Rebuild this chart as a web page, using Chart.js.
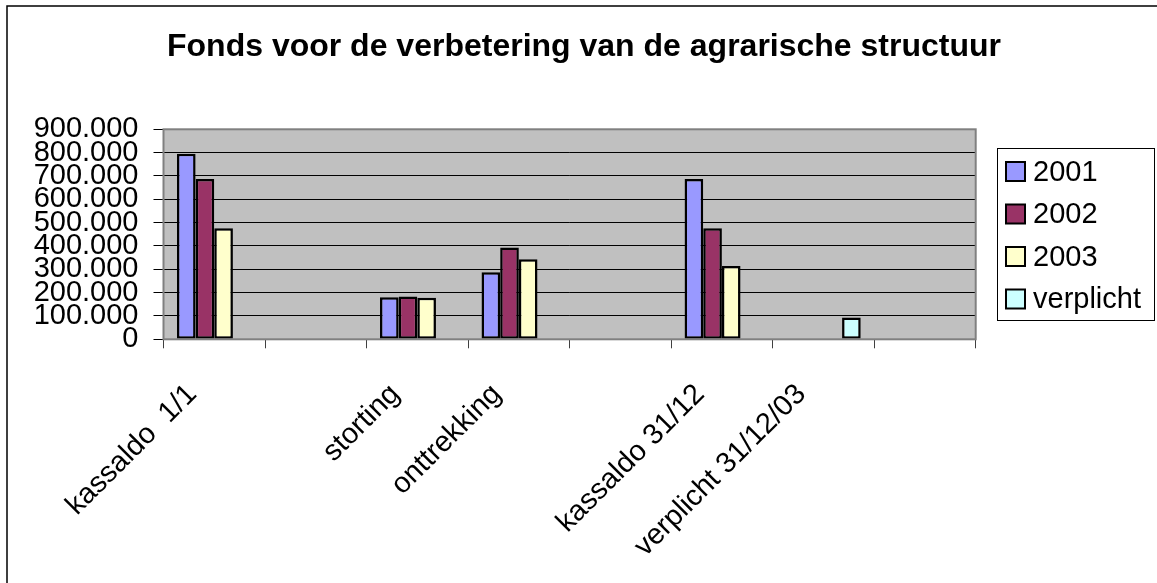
<!DOCTYPE html>
<html>
<head>
<meta charset="utf-8">
<script src="https://cdn.jsdelivr.net/npm/chart.js@4.4.1/dist/chart.umd.min.js"></script>
<style>
  html, body { margin: 0; padding: 0; background: #fff; }
  canvas { display: block; }
</style>
</head>
<body>
<canvas id="fondsChart" width="1157" height="583"></canvas>
<script>
// Categories and values
const categories = ['kassaldo  1/1', '', 'storting', 'onttrekking', '', 'kassaldo 31/12', 'verplicht 31/12/03', ''];
const seriesNames = ['2001', '2002', '2003', 'verplicht'];
const values2001 = [795000, null, 180000, 287000, null, 687000, null, null];
const values2002 = [687000, null, 183000, 393000, null, 476000, null, null];
const values2003 = [476000, null, 178000, 343000, null, 314000, null, null];
const valuesVerplicht = [null, null, null, null, null, null, 93000, null];
const yTicks = [0, 100000, 200000, 300000, 400000, 500000, 600000, 700000, 800000, 900000];

const chartTitle = 'Fonds voor de verbetering van de agrarische structuur';
const colors = ['#9999ff', '#993366', '#ffffcc', '#ccffff'];
const FONT = "'Liberation Sans', Arial, sans-serif";

function formatThousands(v) {
    return String(v).replace(/\B(?=(\d{3})+(?!\d))/g, '.');
}

// Background of the plot area, plot border, outer frame, title and legend
const excelLook = {
    id: 'excelLook',
    beforeDraw(chart) {
        const { ctx, chartArea: { left, top, width, height } } = chart;
        ctx.save();
        ctx.fillStyle = '#c0c0c0';
        ctx.fillRect(left, top, width, height);
        ctx.restore();
    },
    afterDatasetsDraw(chart) {
        const { ctx, chartArea: { left, top, width, height } } = chart;
        ctx.save();
        ctx.strokeStyle = '#808080';
        ctx.lineWidth = 2;
        ctx.strokeRect(left, top, width, height);
        ctx.restore();
    },
    afterDraw(chart) {
        const { ctx } = chart;
        ctx.save();

        // outer frame (cropped at right and bottom)
        ctx.strokeStyle = '#000';
        ctx.lineWidth = 1.5;
        ctx.beginPath();
        ctx.moveTo(7, chart.height);
        ctx.lineTo(7, 6);
        ctx.lineTo(chart.width, 6);
        ctx.stroke();

        // title
        ctx.fillStyle = '#000';
        ctx.font = 'bold 32px ' + FONT;
        ctx.textAlign = 'center';
        ctx.textBaseline = 'middle';
        ctx.fillText(chartTitle, 584, 47);

        // legend
        const boxX = 997, boxY = 148, boxW = 157, boxH = 172;
        ctx.fillStyle = '#fff';
        ctx.fillRect(boxX, boxY, boxW, boxH);
        ctx.strokeStyle = '#000';
        ctx.lineWidth = 1;
        ctx.strokeRect(boxX + 0.5, boxY + 0.5, boxW, boxH);

        ctx.font = '29px ' + FONT;
        ctx.textAlign = 'left';
        chart.data.datasets.forEach((ds, i) => {
            const cy = 171.5 + i * 42.5;
            ctx.fillStyle = ds.backgroundColor;
            ctx.fillRect(1006, cy - 9.5, 19, 19);
            ctx.strokeStyle = '#000';
            ctx.lineWidth = 2;
            ctx.strokeRect(1006, cy - 9.5, 19, 19);
            ctx.fillStyle = '#000';
            ctx.fillText(ds.label, 1033, cy + 1);
        });
        ctx.restore();
    }
};

const datasets = [values2001, values2002, values2003, valuesVerplicht].map((data, i) => ({
    label: seriesNames[i],
    data: data,
    backgroundColor: colors[i],
    borderColor: '#000',
    borderWidth: 2.5,
    borderSkipped: false,
    categoryPercentage: 0.735,
    barPercentage: 1
}));

new Chart(document.getElementById('fondsChart'), {
    type: 'bar',
    data: { labels: categories, datasets: datasets },
    plugins: [excelLook],
    options: {
        responsive: false,
        animation: false,
        devicePixelRatio: 1,
        layout: { padding: { left: 0, right: 181.3, top: 129.3, bottom: 0 } },
        plugins: {
            legend: { display: false },
            title: { display: false },
            tooltip: { enabled: false }
        },
        scales: {
            x: {
                offset: true,
                grid: {
                    offset: true,
                    drawOnChartArea: false,
                    drawTicks: true,
                    tickLength: 9,
                    color: '#404040',
                    lineWidth: 1
                },
                border: { display: false },
                ticks: {
                    autoSkip: false,
                    minRotation: 45,
                    maxRotation: 45,
                    padding: 29,
                    labelOffset: -22,
                    color: '#000',
                    font: { family: FONT, size: 29 }
                },
                afterFit: scale => { scale.height = 583 - 339.3; }
            },
            y: {
                min: 0,
                max: 900000,
                afterBuildTicks: scale => { scale.ticks = yTicks.map(v => ({ value: v })); },
                grid: {
                    color: '#000',
                    lineWidth: 1,
                    tickLength: 10,
                    tickColor: '#000'
                },
                border: { display: false },
                ticks: {
                    autoSkip: false,
                    padding: 15,
                    color: '#000',
                    font: { family: FONT, size: 29 },
                    callback: v => formatThousands(v)
                },
                afterFit: scale => { scale.width = 163.5; }
            }
        }
    }
});
</script>
</body>
</html>
